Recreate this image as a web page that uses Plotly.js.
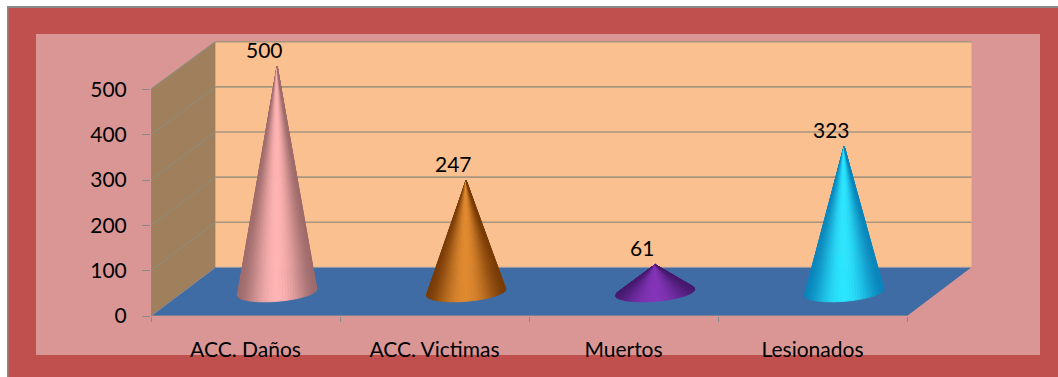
<!DOCTYPE html>
<html lang="es">
<head>
<meta charset="utf-8">
<title>Accidentes</title>
<script src="https://cdn.plot.ly/plotly-3.0.1.min.js"></script>
<style>
  html, body { margin: 0; padding: 0; background: #fff; }
  #chart { width: 1058px; height: 377px; }
</style>
</head>
<body>
<div id="chart"></div>
<script>
// Accident totals shown as oblique cones on a 3D-style floor and walls.
const categories = ["ACC. Daños", "ACC. Victimas", "Muertos", "Lesionados"];
const values = [500, 247, 61, 323];
const gridValues = [100, 200, 300, 400, 500];
const yTicks = [0, 100, 200, 300, 400, 500];
const boundaries = [-0.5, 0.5, 1.5, 2.5, 3.5];
const coneEdge = ["#A06C6C", "#7A3C06", "#46186C", "#0A86BC"];
const coneLight = ["#FFB4B4", "#E08A30", "#8434B8", "#2CE6FF"];

// Oblique projection: depth 0 is the front plane, depth 1 the back wall.
const DEPTH_X = 0.3413;
const DEPTH_Y = 107.4;
const BACK_SHRINK = 0.005;
const project = (cat, val, depth) => ({
  x: cat + depth * DEPTH_X,
  y: val * (1 - BACK_SHRINK * depth) + depth * DEPTH_Y
});

// Plot frame, in pixels of the page, used to place the page-level panels.
const frame = { l: 151, r: 973, t: 38, b: 316 };
const W = 1058, H = 377;
const PX_PER_CAT = 189;
const PX_PER_UNIT = 0.4533;
const px = v => (v - frame.l) / (frame.r - frame.l);
const py = v => (frame.b - v) / (frame.b - frame.t);
const panel = (x0, y0, x1, y1, color) => ({
  type: "rect", xref: "paper", yref: "paper", layer: "below",
  x0: px(x0), x1: px(x1), y0: py(y0), y1: py(y1),
  fillcolor: color, line: { width: 0 }
});
const polygon = (pts, color) => ({
  type: "path", xref: "x", yref: "y", layer: "below",
  path: pts.map((p, i) => (i ? "L" : "M") + p.x + "," + p.y).join(" ") + " Z",
  fillcolor: color, line: { width: 0 }
});
const segment = (a, b, color, width) => ({
  type: "line", xref: "x", yref: "y", layer: "below",
  x0: a.x, y0: a.y, x1: b.x, y1: b.y,
  line: { color: color, width: width }
});

const AXIS_GRAY = "#8A8A8A";
const left = boundaries[0];
const right = boundaries[boundaries.length - 1];

const shapes = [
  panel(7, 6, W, H, AXIS_GRAY),
  panel(8.5, 8, W, H, "#C0504D"),
  panel(36, 34, 1040, 355, "#D99694"),
  // Side wall, back wall and floor
  polygon([project(left, 0, 0), project(left, 500, 0), project(left, 500, 1), project(left, 0, 1)], "#A07F5C"),
  polygon([project(left, 0, 1), project(left, 500, 1), project(right, 500, 1), project(right, 0, 1)], "#FAC08F"),
  polygon([project(left, 0, 0), project(right, 0, 0), project(right, 0, 1), project(left, 0, 1)], "#3F6CA5")
];
gridValues.forEach(v => {
  shapes.push(segment(project(left, v, 0), project(left, v, 1), "#8F8A78", 1.2));
  shapes.push(segment(project(left, v, 1), project(right, v, 1), "#A8947F", 1.6));
});
shapes.push(segment(project(left, 0, 1), project(right, 0, 1), "#A8A0A0", 1));
shapes.push(segment(project(left, 0, 0), project(left, 0, 1), AXIS_GRAY, 1));

// Each cone is a fan of thin wedges from the apex to its sheared base ellipse,
// shaded by how far the wedge sits from the middle of the cone.
const CONE_DEPTH = 0.49;
const BASE_X = 0.199;
const BASE_DEPTH = 0.2;
const WEDGES = 44;

const hexToRgb = h => [1, 3, 5].map(i => parseInt(h.substr(i, 2), 16));
const mix = (a, b, k) => {
  const ca = hexToRgb(a), cb = hexToRgb(b);
  return "rgb(" + ca.map((c, i) => Math.round(c + (cb[i] - c) * k)).join(",") + ")";
};

function coneTraces(index) {
  const value = values[index];
  const apex = project(index, value, CONE_DEPTH);
  const c0 = project(index, 0, CONE_DEPTH);
  const basePoint = t => ({
    x: c0.x + Math.cos(t) * BASE_X + Math.sin(t) * BASE_DEPTH * DEPTH_X,
    y: c0.y + Math.sin(t) * BASE_DEPTH * DEPTH_Y
  });
  // Silhouette tangents: the base points seen at the widest angle from the apex.
  // Angles are compared in page pixels so the test is not skewed by axis units.
  const angleOf = t => {
    const p = basePoint(t);
    return Math.atan2((p.x - apex.x) * PX_PER_CAT, (apex.y - p.y) * PX_PER_UNIT);
  };
  let tLeft = -Math.PI, tRight = 0, minA = Infinity, maxA = -Infinity;
  for (let k = 0; k <= 360; k++) {
    const tr = -Math.PI / 2 + (Math.PI * k) / 360;
    const tl = -1.5 * Math.PI + (Math.PI * k) / 360;
    if (angleOf(tr) > maxA) { maxA = angleOf(tr); tRight = tr; }
    if (angleOf(tl) < minA) { minA = angleOf(tl); tLeft = tl; }
  }

  const traces = [];
  for (let w = 0; w < WEDGES; w++) {
    const a = tLeft + ((tRight - tLeft) * w) / WEDGES;
    const b = tLeft + ((tRight - tLeft) * (w + 1)) / WEDGES;
    const pa = basePoint(a), pb = basePoint(b);
    const mid = (w + 0.5) / WEDGES;
    const shade = Math.pow(Math.sin(Math.PI * mid), 4);
    const color = mix(coneEdge[index], coneLight[index], shade);
    traces.push({
      type: "scatter", mode: "lines", fill: "toself", fillcolor: color,
      x: [apex.x, pa.x, pb.x, apex.x], y: [apex.y, pa.y, pb.y, apex.y],
      line: { color: color, width: 0.8 },
      hoverinfo: "skip", showlegend: false
    });
  }
  return traces;
}

// The floor's front edge runs on the overlay axis that carries the boundary ticks.
const frontEdge = {
  type: "scatter", mode: "lines", xaxis: "x2",
  x: [left, right], y: [0, 0],
  line: { color: AXIS_GRAY, width: 1.4 },
  hoverinfo: "skip", showlegend: false, cliponaxis: false
};
const valueAxisLine = {
  type: "scatter", mode: "lines",
  x: [left, left], y: [0, 500],
  line: { color: AXIS_GRAY, width: 1.4 },
  hoverinfo: "skip", showlegend: false, cliponaxis: false
};

const traces = [frontEdge, valueAxisLine];
categories.forEach((_, i) => traces.push(...coneTraces(i)));

const annotations = values.map((v, i) => {
  const apex = project(i, v, CONE_DEPTH);
  return {
    x: apex.x, y: apex.y, xref: "x", yref: "y",
    text: String(v), showarrow: false,
    xshift: -13, yshift: 17, xanchor: "center", yanchor: "middle",
    font: { family: "Lato, sans-serif", size: 21, color: "#000" }
  };
});

const xRange = [left, left + (frame.r - frame.l) / PX_PER_CAT];
const yRange = [0, (frame.b - frame.t) / PX_PER_UNIT];

const layout = {
  width: W, height: H,
  margin: { l: frame.l, r: W - frame.r, t: frame.t, b: H - frame.b, pad: 0 },
  paper_bgcolor: "#fff",
  plot_bgcolor: "rgba(0,0,0,0)",
  font: { family: "Lato, sans-serif", size: 21, color: "#000" },
  showlegend: false,
  hovermode: false,
  shapes: shapes,
  annotations: annotations,
  xaxis: {
    range: xRange, tickmode: "array",
    tickvals: categories.map((_, i) => i), ticktext: categories,
    ticks: "", ticklabelstandoff: 19, showgrid: false, zeroline: false, showline: false,
    tickfont: { family: "Lato, sans-serif", size: 21, color: "#000" }
  },
  xaxis2: {
    overlaying: "x", anchor: "y", side: "bottom",
    range: xRange, tickmode: "array", tickvals: boundaries,
    ticks: "outside", ticklen: 5, tickwidth: 1.4, tickcolor: AXIS_GRAY,
    showticklabels: false, showgrid: false, zeroline: false, showline: false
  },
  yaxis: {
    range: yRange, tickmode: "array", tickvals: yTicks,
    ticks: "outside", ticklen: 8, tickwidth: 1.4, tickcolor: AXIS_GRAY,
    ticklabelstandoff: 11, showgrid: false, zeroline: false, showline: false,
    tickfont: { family: "Lato, sans-serif", size: 21, color: "#000" }
  }
};

Plotly.newPlot("chart", traces, layout, { displayModeBar: false, responsive: false });
</script>
</body>
</html>
